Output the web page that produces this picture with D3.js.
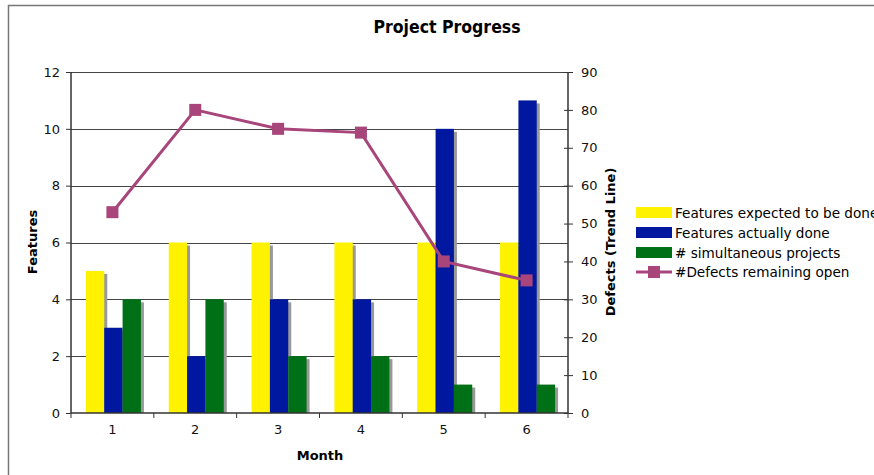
<!DOCTYPE html>
<html>
<head>
<meta charset="utf-8">
<script src="https://cdn.jsdelivr.net/npm/d3@7"></script>
<style>
  html, body { margin: 0; padding: 0; background: #fff; }
  svg { display: block; font-family: "DejaVu Sans", Verdana, sans-serif; }
</style>
</head>
<body>
<svg id="chart" width="874" height="475"></svg>
<script>
// Monthly project data
const months = ["1", "2", "3", "4", "5", "6"];
const featuresExpected = [5, 6, 6, 6, 6, 6];
const featuresDone = [3, 2, 4, 4, 10, 11];
const simultaneousProjects = [4, 4, 2, 2, 1, 1];
const defectsOpen = [53, 80, 75, 74, 40, 35];
const leftTicks = [0, 2, 4, 6, 8, 10, 12];
const rightTicks = [0, 10, 20, 30, 40, 50, 60, 70, 80, 90];

const barSeries = [
  { name: "Features expected to be done", values: featuresExpected, color: "#FFF200" },
  { name: "Features actually done", values: featuresDone, color: "#0018A0" },
  { name: "# simultaneous projects", values: simultaneousProjects, color: "#007016" }
];
const lineSeries = { name: "#Defects remaining open", values: defectsOpen, color: "#A8457A" };

const svg = d3.select("#chart");
const plot = { left: 71, right: 568, top: 72, bottom: 413 };

// outer frame
svg.append("path")
  .attr("d", "M8.5,475 V5.5 H874")
  .attr("fill", "none").attr("stroke", "#777").attr("stroke-width", 1.5);

const x = d3.scaleBand().domain(months).range([plot.left, plot.right]);
const xInner = d3.scaleBand().domain(barSeries.map(s => s.name))
  .range([0, 55]);
const yLeft = d3.scaleLinear().domain([0, 12]).range([plot.bottom, plot.top]);
const yRight = d3.scaleLinear().domain([0, 90]).range([plot.bottom, plot.top]);

// gridlines
svg.append("g").selectAll("line").data(leftTicks.filter(t => t > 0)).join("line")
  .attr("x1", plot.left).attr("x2", plot.right)
  .attr("y1", d => Math.round(yLeft(d)) + 0.5).attr("y2", d => Math.round(yLeft(d)) + 0.5)
  .attr("stroke", "#444").attr("stroke-width", 1);

// bars with drop shadows
const offset = (x.bandwidth() - 55) / 2 + 1;
barSeries.forEach(s => {
  const g = svg.append("g");
  s.values.forEach((v, i) => {
    const bx = x(months[i]) + offset + xInner(s.name);
    const by = yLeft(v);
    const h = plot.bottom - by;
    g.append("rect")
      .attr("x", bx + 3).attr("y", by + 3)
      .attr("width", xInner.bandwidth()).attr("height", Math.max(0, h - 3))
      .attr("fill", "#999");
    g.append("rect")
      .attr("x", bx).attr("y", by)
      .attr("width", xInner.bandwidth()).attr("height", h)
      .attr("fill", s.color);
  });
});

// axes
const axisColor = "#333";
const leftAxis = svg.append("g").attr("transform", `translate(${plot.left},0)`)
  .call(d3.axisLeft(yLeft).tickValues(leftTicks).tickSize(5).tickPadding(6));
const rightAxis = svg.append("g").attr("transform", `translate(${plot.right},0)`)
  .call(d3.axisRight(yRight).tickValues(rightTicks).tickSize(5).tickPadding(8));
rightAxis.selectAll(".tick line").attr("x1", -4);
const bottomAxis = svg.append("g").attr("transform", `translate(0,${plot.bottom})`)
  .call(d3.axisBottom(x).tickSize(0).tickPadding(12));
// tick marks between months
svg.append("g").selectAll("line").data(d3.range(months.length + 1)).join("line")
  .attr("x1", i => plot.left + i * x.step()).attr("x2", i => plot.left + i * x.step())
  .attr("y1", plot.bottom).attr("y2", plot.bottom + 5)
  .attr("stroke", axisColor);

[leftAxis, rightAxis, bottomAxis].forEach(a => {
  a.select(".domain").attr("stroke", axisColor).attr("stroke-width", 1.5);
  a.selectAll(".tick line").attr("stroke", axisColor);
  a.selectAll("text").attr("font-size", 13).attr("fill", "#111")
    .attr("font-family", "DejaVu Sans, Verdana, sans-serif");
});
leftAxis.select(".domain").attr("d", `M0,${plot.bottom}V${plot.top}`);
rightAxis.select(".domain").attr("d", `M0,${plot.bottom}V${plot.top}`);
bottomAxis.select(".domain").attr("d", `M${plot.left},0H${plot.right}`);

// defects trend line
const line = d3.line()
  .x((d, i) => x(months[i]) + x.bandwidth() / 2)
  .y(d => yRight(d));
svg.append("path").datum(lineSeries.values)
  .attr("d", line).attr("fill", "none")
  .attr("stroke", lineSeries.color).attr("stroke-width", 3);
svg.append("g").selectAll("rect").data(lineSeries.values).join("rect")
  .attr("x", (d, i) => x(months[i]) + x.bandwidth() / 2 - 6)
  .attr("y", d => yRight(d) - 6)
  .attr("width", 12).attr("height", 12)
  .attr("fill", lineSeries.color);

// titles
svg.append("text").attr("x", 447).attr("y", 33).attr("text-anchor", "middle")
  .attr("font-size", 17.5).attr("font-weight", "bold")
  .attr("font-family", "DejaVu Sans Condensed, DejaVu Sans, sans-serif")
  .text("Project Progress");
svg.append("text").attr("x", 320).attr("y", 460).attr("text-anchor", "middle")
  .attr("font-size", 13).attr("font-weight", "bold").text("Month");
svg.append("text").attr("transform", "translate(37,242) rotate(-90)")
  .attr("text-anchor", "middle").attr("font-size", 13).attr("font-weight", "bold")
  .text("Features");
svg.append("text").attr("transform", "translate(615,242) rotate(-90)")
  .attr("text-anchor", "middle").attr("font-size", 13).attr("font-weight", "bold")
  .text("Defects (Trend Line)");

// legend
const legend = svg.append("g").attr("transform", "translate(636,213)");
barSeries.forEach((s, i) => {
  legend.append("rect").attr("x", 0).attr("y", i * 20 - 6)
    .attr("width", 36).attr("height", 11).attr("fill", s.color);
  legend.append("text").attr("x", 39).attr("y", i * 20 + 5)
    .attr("font-size", 13.6).text(s.name);
});
legend.append("line").attr("x1", 0).attr("x2", 36).attr("y1", 59).attr("y2", 59)
  .attr("stroke", lineSeries.color).attr("stroke-width", 3);
legend.append("rect").attr("x", 12).attr("y", 53).attr("width", 12).attr("height", 12)
  .attr("fill", lineSeries.color);
legend.append("text").attr("x", 39).attr("y", 64).attr("font-size", 13.6).text(lineSeries.name);
</script>
</body>
</html>
